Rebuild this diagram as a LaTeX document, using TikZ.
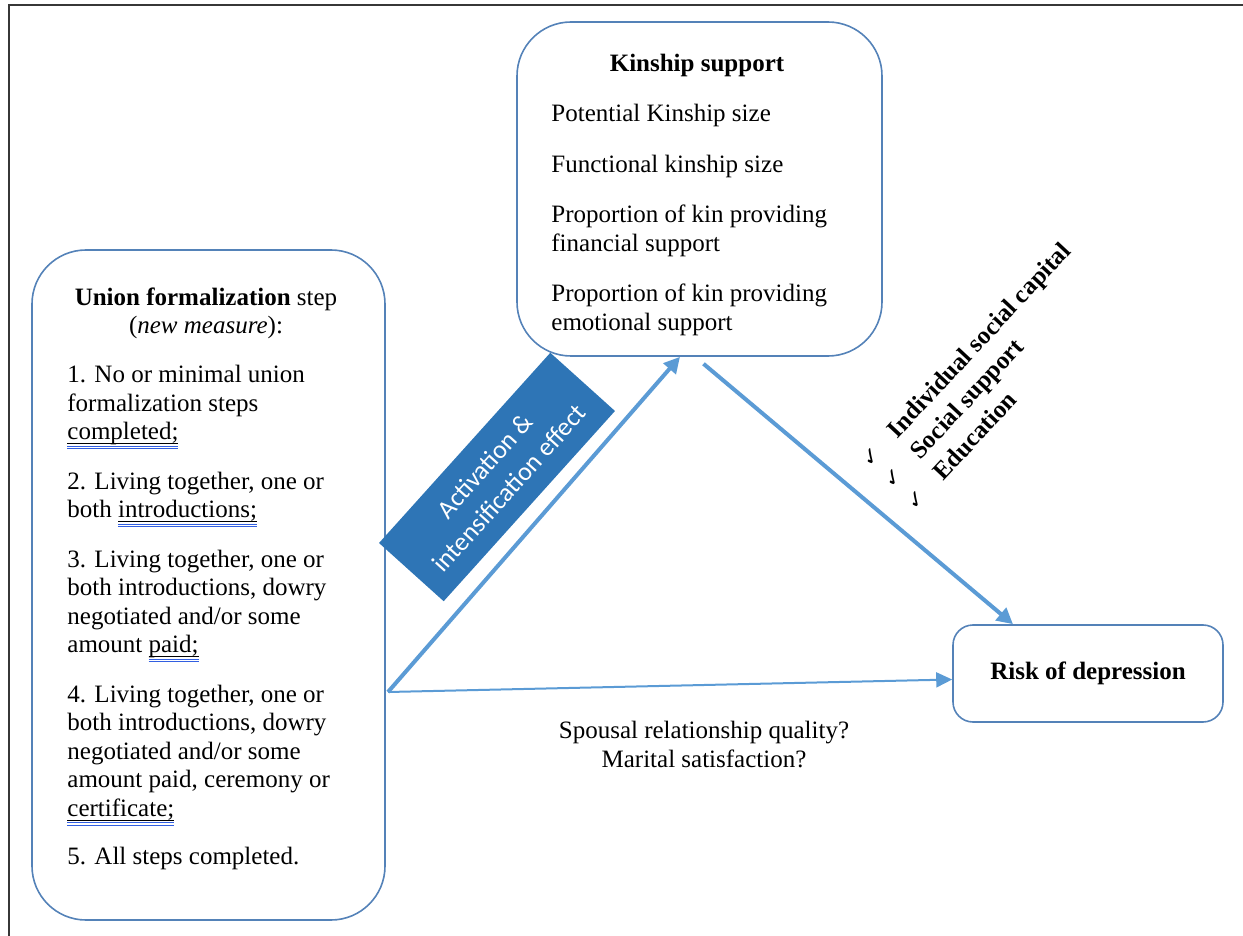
\documentclass[tikz,border=0pt]{standalone}
\usepackage{fontspec}
\setmainfont{Liberation Serif}
\newfontfamily\bandfont{Carlito}
\newfontfamily\symfont{DejaVu Sans}
\usetikzlibrary{arrows.meta}

\definecolor{boxline}{RGB}{84,130,184}
\definecolor{arrowblue}{RGB}{91,155,213}
\definecolor{bandblue}{RGB}{46,117,182}
\definecolor{markblue}{RGB}{50,95,225}
\definecolor{framegray}{RGB}{55,55,55}

% underlined word with the double blue proofing line beneath it
\newlength\marklen
\newcommand\marked[1]{%
  \settowidth\marklen{#1}%
  \rlap{\rule[-2.2pt]{\marklen}{0.5pt}}%
  \rlap{\textcolor{markblue}{\rule[-3.5pt]{\marklen}{0.45pt}}}%
  \rlap{\textcolor{markblue}{\rule[-4.6pt]{\marklen}{0.45pt}}}%
  #1}
\newcommand\tickmk{{\symfont\fontsize{11}{11}\selectfont ✓}\hspace{11pt}}

\begin{document}
\begin{tikzpicture}[x=0.5pt,y=-0.5pt,
  panel/.style={draw=boxline, line width=0.8pt, inner sep=0pt},
  link/.style={draw=arrowblue, line width=2pt, -{Triangle[length=8pt,width=8pt]}},
  thinlink/.style={draw=arrowblue, line width=1pt, -{Triangle[length=8pt,width=7.5pt]}},
  body/.style={font=\fontsize{12.5}{14.25}\selectfont, inner sep=0pt, align=left},
  title/.style={font=\fontsize{12.5}{14.25}\selectfont, inner sep=0pt, align=center},
 ]
\useasboundingbox (0,0) rectangle (1243,936);

% page frame
\draw[framegray, line width=1.2pt] (9,936) -- (9,5) -- (1243,5);

% boxes
\node[panel, rounded corners=27pt, minimum width=176.5pt, minimum height=335pt] (union) at (208.5,585) {};
\node[panel, rounded corners=27pt, minimum width=182.5pt, minimum height=167pt] (kin) at (699.5,189) {};
\node[panel, rounded corners=10pt, minimum width=135pt, minimum height=48.5pt,
      font=\fontsize{12.5}{14.25}\selectfont\bfseries] (risk) at (1088,673.5)
  {\raisebox{-2.5pt}{Risk of depression}};

% union formalization text
\node[title, anchor=north] (uniontitle) at (206,287)
  {\textbf{Union formalization} step\\(\textit{new measure}):};
\node[body, anchor=north west] (unionlist) at (67,365)
  {1. No or minimal union\\formalization steps\\\marked{completed;}\\[10.5pt]
   2. Living together, one or\\both \marked{introductions;}\\[10.5pt]
   3. Living together, one or\\both introductions, dowry\\negotiated and/or some\\amount \marked{paid;}\\[10.5pt]
   4. Living together, one or\\both introductions, dowry\\negotiated and/or some\\amount paid, ceremony or\\\marked{certificate;}\\[10pt]
   5. All steps completed.};

% kinship support text
\node[title, anchor=base, font=\fontsize{12.5}{14.25}\selectfont\bfseries] (kintitle) at (697,72) {Kinship support};
\node[body, anchor=north west] (kinlist) at (551,104)
  {Potential Kinship size\\[11pt]
   Functional kinship size\\[11pt]
   Proportion of kin providing\\financial support\\[11pt]
   Proportion of kin providing\\emotional support};

% connectors
\coordinate (fork) at (388,692);
\draw[link] (fork) -- ([xshift=-9.75pt]kin.south);
\draw[link] ([xshift=2pt,yshift=-3.5pt]kin.south) -- ([xshift=-37.5pt]risk.north);
\draw[thinlink] (fork) -- ([yshift=-3pt]risk.west);

% effect band
\node[fill=bandblue, rotate=48, minimum width=128pt, minimum height=43.5pt, inner sep=0pt,
      text=white, align=center, font=\bandfont\fontsize{13}{16.5}\selectfont] (band) at (497,477)
  {Activation \&\\intensification effect};

% moderators
\node[rotate=47, anchor=north west, inner sep=0pt, align=left,
      font=\fontsize{12.5}{15.5}\selectfont\bfseries] (moderators) at (857,457)
  {\tickmk Individual social capital\\\tickmk Social support\\\tickmk Education};

% direct path label
\node[title, anchor=north] (spousal) at (704,721)
  {Spousal relationship quality?\\Marital satisfaction?};
\end{tikzpicture}
\end{document}
